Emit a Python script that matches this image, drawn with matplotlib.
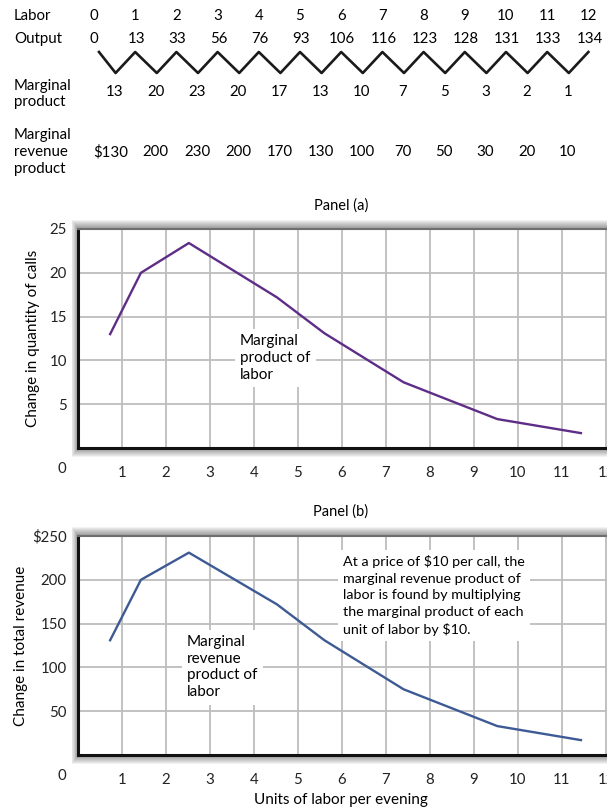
import matplotlib
matplotlib.use('Agg')
import matplotlib.pyplot as plt
from matplotlib.patches import Rectangle
from matplotlib.lines import Line2D

plt.rcParams['font.family'] = ['Lato', 'DejaVu Sans']
plt.rcParams['font.size'] = 10.8

W, H = 607, 807

# table data
labor = [0, 1, 2, 3, 4, 5, 6, 7, 8, 9, 10, 11, 12]
output = [0, 13, 33, 56, 76, 93, 106, 116, 123, 128, 131, 133, 134]
marg_prod = [13, 20, 23, 20, 17, 13, 10, 7, 5, 3, 2, 1]
mrp_labels = ['$130', '200', '230', '200', '170', '130', '100', '70', '50', '30', '20', '10']

# curves as drawn in the panels
curve_x = [0.73, 1.43, 2.52, 4.52, 5.6, 7.4, 9.53, 11.43]
mp_curve = [13.0, 20.0, 23.4, 17.2, 13.1, 7.5, 3.3, 1.7]
mrp_curve = [131, 200, 231, 172, 131, 75, 33, 17]

x_ticks = [1, 2, 3, 4, 5, 6, 7, 8, 9, 10, 11, 12]
a_yticks = [5, 10, 15, 20, 25]
b_yticks = [50, 100, 150, 200, 250]
b_ylabels = ['50', '100', '150', '200', '$250']

fig = plt.figure(figsize=(W / 100, H / 100), dpi=100)
fig.patch.set_facecolor('white')


def fx(x):
    return x / W


def fy(y):
    return 1 - y / H


# ---- table on top ----
col0, dcol = 94, 41.2
fig.text(fx(14), fy(16), 'Labor', va='center', ha='left')
fig.text(fx(14), fy(39), 'Output', va='center', ha='left')
fig.text(fx(14), fy(94), 'Marginal\nproduct', va='center', ha='left', linespacing=1.25)
fig.text(fx(14), fy(152), 'Marginal\nrevenue\nproduct', va='center', ha='left', linespacing=1.25)
for i, (l, o) in enumerate(zip(labor, output)):
    cx = col0 + dcol * i
    fig.text(fx(cx), fy(16), str(l), va='center', ha='center')
    fig.text(fx(cx + (1 if i else 0)), fy(39), str(o), va='center', ha='center')
zx, zy = [], []
for i in range(len(labor)):
    cx = col0 + dcol * i
    zx.append(fx(cx + (5 if i == 0 else 0)))
    zy.append(fy(52))
    if i < len(marg_prod):
        zx.append(fx(cx + dcol / 2 + 1))
        zy.append(fy(73))
fig.add_artist(Line2D(zx, zy, color='#1a1a1a', lw=1.9, transform=fig.transFigure))
for i, (m, r) in enumerate(zip(marg_prod, mrp_labels)):
    cx = col0 + dcol * i + dcol / 2
    fig.text(fx(cx), fy(92), str(m), va='center', ha='center')
    fig.text(fx(cx - (4 if i == 0 else 0)), fy(152), r, va='center', ha='center')


def panel(top, bottom, ys, ylim, yticks, ylabels, color, ylabel, ylab_x):
    left = 78
    unit = 44
    xmax = 12.3
    ax = fig.add_axes([fx(left), fy(bottom), unit * xmax / W, (bottom - top) / H])
    # drop shadow around the frame
    for i in range(1, 10):
        fig.add_artist(Rectangle((fx(left - i * 0.7), fy(bottom + i)), (unit * xmax + 2 * i) / W,
                                 (bottom - top + 2 * i) / H, transform=fig.transFigure,
                                 facecolor='black', edgecolor='none', alpha=0.05, zorder=-1))
    ax.set_facecolor('white')
    ax.set_xlim(0, xmax)
    ax.set_ylim(*ylim)
    for t in x_ticks:
        ax.axvline(t, color='#bdbdbd', lw=1.3, zorder=1)
    for t in yticks[:-1]:
        ax.axhline(t, color='#bdbdbd', lw=1.3, zorder=1)
    ax.plot(ys[0], ys[1], color=color, lw=1.7, zorder=3)
    ax.set_xticks(x_ticks)
    ax.set_xticklabels([str(t) for t in x_ticks])
    ax.set_yticks(yticks)
    ax.set_yticklabels(ylabels)
    ax.tick_params(length=0, labelsize=10.8, colors='#222222')
    ax.tick_params(axis='x', pad=13)
    ax.tick_params(axis='y', pad=8)
    ax.text(-0.37, -0.096, '0', transform=ax.get_xaxis_transform(), ha='center', va='center',
            fontsize=10.8, color='#222222')
    ax.spines['left'].set_linewidth(2.2)
    ax.spines['bottom'].set_linewidth(2.2)
    ax.spines['left'].set_color('#111111')
    ax.spines['bottom'].set_color('#111111')
    ax.spines['top'].set_color('#6e6e6e')
    ax.spines['top'].set_linewidth(1.5)
    ax.spines['right'].set_visible(False)
    fig.text(fx(ylab_x), fy((top + bottom) / 2), ylabel, rotation=90, ha='center', va='center',
             fontsize=11)
    return ax


bbox = dict(boxstyle='square,pad=0.35', facecolor='white', edgecolor='none')

ax1 = panel(229, 448, (curve_x, mp_curve), (0, 25), a_yticks, [str(t) for t in a_yticks],
            '#5e2d87', 'Change in quantity of calls', 33)
fig.text(fx(341), fy(206), 'Panel (a)', ha='center', va='center', fontsize=10.5)
ax1.text(3.68, 13.0, 'Marginal\nproduct of\nlabor', ha='left', va='top', linespacing=1.25,
         fontsize=11, bbox=bbox, zorder=2)

ax2 = panel(536, 755, (curve_x, mrp_curve), (0, 250), b_yticks, b_ylabels,
            '#3d5a94', 'Change in total revenue', 21)
fig.text(fx(341), fy(512), 'Panel (b)', ha='center', va='center', fontsize=10.5)
ax2.text(2.48, 137, 'Marginal\nrevenue\nproduct of\nlabor', ha='left', va='top', linespacing=1.25,
         fontsize=11, bbox=bbox, zorder=2)
ax2.text(6.02, 228, 'At a price of $10 per call, the\nmarginal revenue product of\n'
         'labor is found by multiplying\nthe marginal product of each\nunit of labor by $10.',
         ha='left', va='top', linespacing=1.45, fontsize=10.3, bbox=bbox, zorder=2)
fig.text(fx(341), fy(800), 'Units of labor per evening', ha='center', va='center', fontsize=11)

fig.savefig('out.png', dpi=100)
